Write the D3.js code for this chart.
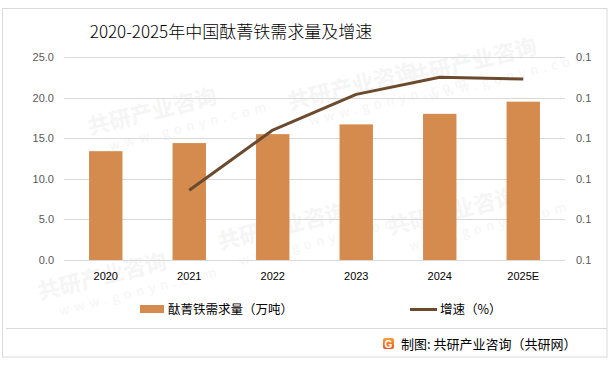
<!DOCTYPE html>
<html>
<head>
<meta charset="utf-8">
<script src="https://cdn.jsdelivr.net/npm/d3@7"></script>
<style>
html,body{margin:0;padding:0;background:#fff;}
svg{display:block;font-family:"Microsoft YaHei","Noto Sans CJK SC","Noto Sans",sans-serif;}
</style>
</head>
<body>
<svg id="chart" width="614" height="365"></svg>
<script>
const categories = ["2020","2021","2022","2023","2024","2025E"];
const demand = [13.4, 14.4, 15.5, 16.7, 18.0, 19.5];
const growth = [null, 0.0786, 0.0860, 0.0904, 0.0925, 0.0923];
const leftTicks = [0, 5, 10, 15, 20, 25];
const rightTicks = [0.070, 0.075, 0.080, 0.085, 0.090, 0.095];
const title = "2020-2025年中国酞菁铁需求量及增速";
const legendBar = "酞菁铁需求量（万吨）";
const legendLine = "增速（%）";
const source = "制图: 共研产业咨询（共研网）";

const svg = d3.select("#chart");
const W = 614, H = 365;
const m = {left: 64, right: 49, top: 57, bottom: 105};
const plotW = W - m.left - m.right, plotH = H - m.top - m.bottom;

// frames
svg.append("rect").attr("x",2.5).attr("y",8.5).attr("width",604.5).attr("height",348.5)
  .attr("fill","none").attr("stroke","#d9d9d9").attr("stroke-width",1);
svg.append("line").attr("x1",6).attr("x2",607).attr("y1",328.5).attr("y2",328.5)
  .attr("stroke","#d9d9d9").attr("stroke-width",1);

// watermark (faint)
const wm = svg.append("g").attr("fill","#f5f5f5").attr("font-weight","bold");
const wmPos = [[90,135],[290,110],[410,85],[40,300],[220,250],[390,235]];
wmPos.forEach(([x,y])=>{
  const gg = wm.append("g").attr("transform",`translate(${x},${y}) rotate(-14)`);
  gg.append("text").attr("font-size",22).text("共研产业咨询");
  gg.append("text").attr("y",20).attr("x",16).attr("font-size",13).attr("font-weight","normal")
    .attr("letter-spacing",5).text("www.gonyn.com");
});

const g = svg.append("g").attr("transform",`translate(${m.left},${m.top})`);

const x = d3.scaleBand().domain(categories).range([0, plotW]).paddingInner(0.6).paddingOuter(0.3);
const y = d3.scaleLinear().domain([0,25]).range([plotH,0]);
const y2 = d3.scaleLinear().domain([0.070,0.095]).range([plotH,0]);

// gridlines
g.append("g").selectAll("line").data(leftTicks).join("line")
  .attr("x1",0).attr("x2",plotW)
  .attr("y1",d=>Math.round(y(d))+0.5).attr("y2",d=>Math.round(y(d))+0.5)
  .attr("stroke","#d9d9d9").attr("stroke-width",1);

// left axis
const la = g.append("g").call(d3.axisLeft(y).tickValues(leftTicks).tickFormat(d3.format(".1f")).tickSize(0).tickPadding(10));
la.select(".domain").remove();
la.selectAll("text").attr("fill","#595959").attr("font-size",11).attr("font-family","Arial, 'Liberation Sans', sans-serif");

// right axis
const ra = g.append("g").attr("transform",`translate(${plotW},0)`)
  .call(d3.axisRight(y2).tickValues(rightTicks).tickFormat(d3.format(".1f")).tickSize(0).tickPadding(11));
ra.select(".domain").remove();
ra.selectAll("text").attr("fill","#595959").attr("font-size",11).attr("font-family","Arial, 'Liberation Sans', sans-serif");

// bars
g.append("g").selectAll("rect").data(categories).join("rect")
  .attr("x",d=>x(d)).attr("width",x.bandwidth())
  .attr("y",(d,i)=>y(demand[i])).attr("height",(d,i)=>plotH - y(demand[i]))
  .attr("fill","#d48b4d");

// x labels
const xa = g.append("g").attr("transform",`translate(0,${plotH})`)
  .call(d3.axisBottom(x).tickSize(0).tickPadding(12));
xa.select(".domain").remove();
xa.selectAll("text").attr("fill","#000").attr("font-size",11);

// line
const pts = categories.map((c,i)=>({c, v: growth[i]})).filter(d=>d.v!==null);
g.append("path").datum(pts)
  .attr("fill","none").attr("stroke","#6b4a2e").attr("stroke-width",3).attr("stroke-linejoin","round")
  .attr("d", d3.line().x(d=>x(d.c)+x.bandwidth()/2).y(d=>y2(d.v)));

// title
svg.append("text").attr("x",231).attr("y",38).attr("text-anchor","middle")
  .attr("font-size",17).attr("font-weight",300).attr("fill","#000").text(title);

// legend
svg.append("rect").attr("x",140).attr("y",305).attr("width",24).attr("height",8).attr("fill","#d48b4d");
svg.append("text").attr("x",168).attr("y",314).attr("font-size",12.5).attr("fill","#000").text(legendBar);
svg.append("line").attr("x1",410).attr("x2",437).attr("y1",309.5).attr("y2",309.5)
  .attr("stroke","#6b4a2e").attr("stroke-width",3);
svg.append("text").attr("x",440).attr("y",314).attr("font-size",12.5).attr("fill","#000").text(legendLine);

// source
const grad = svg.append("defs").append("linearGradient").attr("id","lg").attr("x1",0).attr("y1",0).attr("x2",0).attr("y2",1);
grad.append("stop").attr("offset","0%").attr("stop-color","#f7a33a");
grad.append("stop").attr("offset","100%").attr("stop-color","#e8541f");
svg.append("rect").attr("x",383).attr("y",338).attr("width",11).attr("height",11).attr("rx",2).attr("fill","url(#lg)");
svg.append("text").attr("x",388.5).attr("y",347.5).attr("text-anchor","middle").attr("font-size",10).attr("font-weight","bold")
  .attr("fill","#fff").attr("font-family","Arial, sans-serif").text("G");
svg.append("text").attr("x",401).attr("y",349).attr("font-size",13).attr("fill","#000").text(source);
</script>
</body>
</html>
